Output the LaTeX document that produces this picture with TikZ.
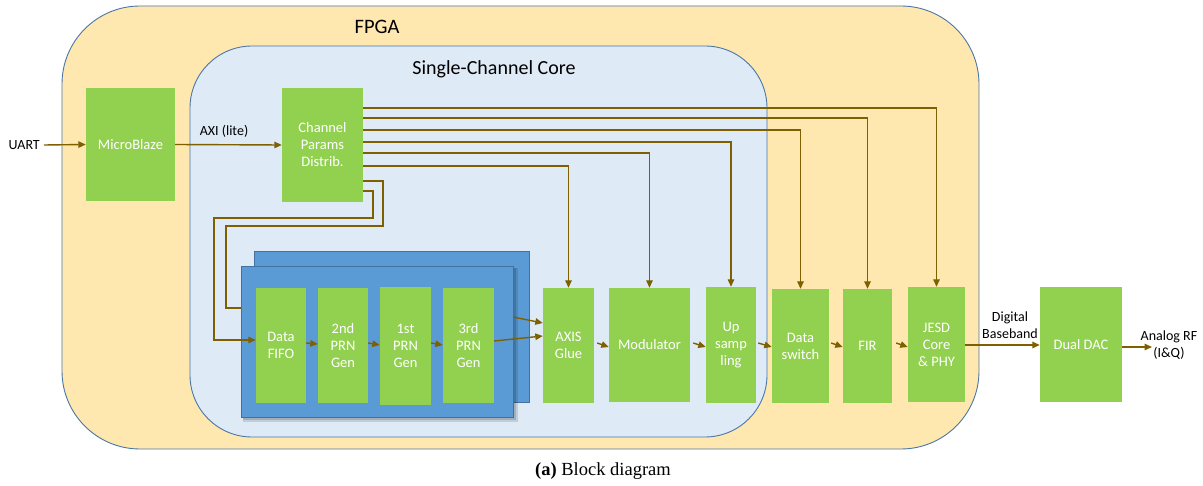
\documentclass[tikz,border=0pt]{standalone}
\usepackage{fontspec}
\setmainfont{Carlito}
\newfontfamily\capfont{Liberation Serif}
\usetikzlibrary{arrows.meta}
\definecolor{fpgafill}{HTML}{FFE8B0}
\definecolor{corefill}{HTML}{DEEAF6}
\definecolor{frameblue}{HTML}{4A76A8}
\definecolor{boxgreen}{HTML}{92D050}
\definecolor{blockblue}{HTML}{5B9BD5}
\definecolor{blockedge}{HTML}{41719C}
\definecolor{wire}{HTML}{7F6000}
\begin{document}
\begin{tikzpicture}[x=1pt,y=-1pt,
 gbox/.style={fill=boxgreen, text=white, inner sep=0pt, align=center, font=\fontsize{14.5}{17}\selectfont},
 wirestyle/.style={draw=wire, line width=1.4pt},
 arr/.style={wirestyle, -{Triangle[length=7.5pt,width=6.5pt]}},
 lbl/.style={font=\fontsize{14}{16.5}\selectfont, align=center, inner sep=0pt},
 frame/.style={draw=frameblue, line width=0.9pt},
 bluebox/.style={fill=blockblue, draw=blockedge, line width=0.8pt},
]
\useasboundingbox (0,0) rectangle (1203,486);

% containers
\draw[frame, fill=fpgafill, rounded corners=78] (62,6) rectangle (979,449);
\draw[frame, fill=corefill, rounded corners=62] (190,46) rectangle (767,437);
\node[font=\fontsize{20.5}{24}\selectfont] (fpgat) at (377,27) {FPGA};
\node[font=\fontsize{20}{24}\selectfont] (coret) at (494,69) {Single-Channel Core};

% top blocks
\node[gbox, minimum width=89pt, minimum height=113pt] (mb) at (130.5,144.5) {MicroBlaze};
\node[gbox, minimum width=81pt, minimum height=114pt] (cpd) at (322.5,145) {Channel\\Params\\Distrib.};

% wire from params to the left edge of the chain (drawn before blue boxes)
\draw[wirestyle] (cpd.east |- 0,181) -- (383,181) -- (383,226) -- (226,226) -- (226,308) -- (241,308);

% blue stacked blocks
\draw[bluebox] (254,251) rectangle (529,402);
\fill[black, opacity=0.12] (243,268) rectangle (518,422);
\fill[black, opacity=0.15] (243,268) rectangle (516,420);
\draw[bluebox] (241,266) rectangle (513,417);

% chain blocks
\node[gbox, minimum width=50pt, minimum height=115pt] (fifo) at (281,345.5) {Data\\FIFO};
\node[gbox, minimum width=50pt, minimum height=115pt] (prn2) at (343,345.5) {2nd\\PRN\\Gen};
\node[gbox, minimum width=51pt, minimum height=118pt] (prn1) at (405.5,346) {1st\\PRN\\Gen};
\node[gbox, minimum width=51pt, minimum height=115pt] (prn3) at (468.5,345.5) {3rd\\PRN\\Gen};
\node[gbox, minimum width=51pt, minimum height=115pt] (axis) at (568.5,345.5) {AXIS\\Glue};
\node[gbox, minimum width=81pt, minimum height=114pt] (mod) at (649.5,345) {Modulator};
\node[gbox, minimum width=50pt, minimum height=116pt] (ups) at (731,345) {Up\\samp\\ling};
\node[gbox, minimum width=57pt, minimum height=114pt] (dsw) at (800.5,346) {Data\\switch};
\node[gbox, minimum width=49pt, minimum height=114pt] (fir) at (867.5,346) {FIR};
\node[gbox, minimum width=57pt, minimum height=115pt] (jesd) at (936.5,344.5) {JESD\\Core\\\& PHY};
\node[gbox, minimum width=82pt, minimum height=115pt] (dac) at (1081,344.5) {Dual DAC};

% labels
\node[lbl, anchor=east] (uart) at (40,145) {UART};
\node[lbl] (axil) at (224,131) {AXI (lite)};
\node[lbl] (digbb) at (1010,325) {Digital\\Baseband};
\node[lbl] (arf) at (1169,345) {Analog RF\\(I\&Q)};
\coordinate (rfout) at (1152,347);

% input arrows
\draw[arr] (uart.east) ++(4,0) -- (mb.west);
\draw[arr] (mb.east) -- (cpd.west);

% parameter distribution wires
\draw[arr] (cpd.east |- 0,108) -| (jesd.north);
\draw[arr] (cpd.east |- 0,118) -| (fir.north);
\draw[arr] (cpd.east |- 0,130) -| (dsw.north);
\draw[arr] (cpd.east |- 0,142) -| (ups.north);
\draw[arr] (cpd.east |- 0,153) -| (mod.north);
\draw[arr] (cpd.east |- 0,166) -| (axis.north);
\draw[arr] (cpd.east |- 0,191) -- (373,191) -- (373,218) -- (214,218) -- (214,340) -- (fifo.west |- 0,340);

% chain arrows
\draw[arr] (fifo.east |- 0,343) -- (prn2.west |- 0,344);
\draw[arr] (prn2.east |- 0,343) -- (prn1.west |- 0,345);
\draw[arr] (prn1.east |- 0,343) -- (prn3.west |- 0,345);
\draw[arr] (513,317) -- (axis.west |- 0,323);
\draw[arr] (prn3.east |- 0,341) -- (axis.west |- 0,336);
\draw[arr] (axis.east |- 0,343) ++(3,0) -- (mod.west |- 0,347);
\draw[arr] (mod.east |- 0,343) ++(3,0) -- (ups.west |- 0,347);
\draw[arr] (ups.east |- 0,343) ++(2,0) -- (dsw.west |- 0,347);
\draw[arr] (dsw.east |- 0,343) ++(2,0) -- (fir.west |- 0,347);
\draw[arr] (fir.east |- 0,343) ++(4,0) -- (jesd.west |- 0,347);

% output
\draw[arr] (jesd.east |- 0,345) -- (dac.west |- 0,345);
\draw[arr] (dac.east |- 0,347) -- (rfout);

% caption
\node[font=\capfont\fontsize{18.5}{21}\selectfont] (cap) at (603,471) {\textbf{(a)} Block diagram};
\end{tikzpicture}
\end{document}
